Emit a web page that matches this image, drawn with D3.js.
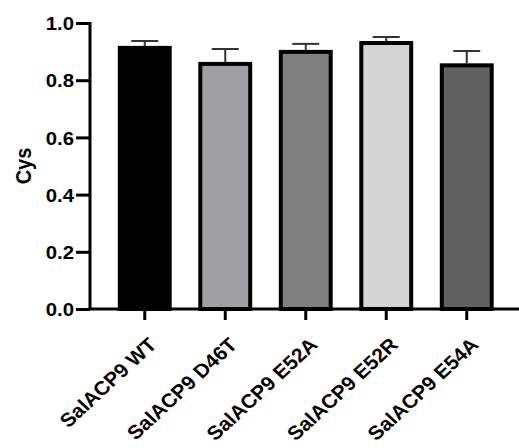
<!DOCTYPE html>
<html>
<head>
<meta charset="utf-8">
<script src="https://cdn.jsdelivr.net/npm/d3@7"></script>
<style>
body{margin:0;background:#fff;}
svg{display:block;}
text{font-family:"Liberation Sans",Arial,sans-serif;font-weight:bold;}
</style>
</head>
<body>
<svg id="chart" width="519" height="448"></svg>
<script>
var categories = ["SalACP9 WT","SalACP9 D46T","SalACP9 E52A","SalACP9 E52R","SalACP9 E54A"];
var means = [0.913, 0.857, 0.899, 0.930, 0.852];
var errors = [0.024, 0.052, 0.028, 0.021, 0.050];
var fills = ["#000000","#a0a0a4","#808080","#d4d4d4","#616161"];
var yTicks = [0.0,0.2,0.4,0.6,0.8,1.0];

var svg = d3.select("#chart");

var y = d3.scaleLinear().domain([0,1]).range([309,23]);
var x = d3.scaleBand().domain(categories).range([104.5,507]).paddingInner(0.38).paddingOuter(0.19);

// bars
svg.selectAll("rect.bar").data(categories).enter().append("rect")
	.attr("class","bar")
	.attr("x", d => x(d))
	.attr("width", x.bandwidth())
	.attr("y", (d,i) => y(means[i]))
	.attr("height", (d,i) => y(0)-y(means[i]))
	.attr("fill", (d,i) => fills[i])
	.attr("stroke","#000")
	.attr("stroke-width",4);

// error bars (upper only)
var eb = svg.selectAll("g.err").data(categories).enter().append("g").attr("class","err");
eb.append("line")
	.attr("x1", d => x(d)+x.bandwidth()/2)
	.attr("x2", d => x(d)+x.bandwidth()/2)
	.attr("y1", (d,i) => y(means[i])-2)
	.attr("y2", (d,i) => y(means[i]+errors[i]))
	.attr("stroke","#333").attr("stroke-width",2);
eb.append("line")
	.attr("x1", d => x(d)+x.bandwidth()/2-13.5)
	.attr("x2", d => x(d)+x.bandwidth()/2+13.5)
	.attr("y1", (d,i) => y(means[i]+errors[i]))
	.attr("y2", (d,i) => y(means[i]+errors[i]))
	.attr("stroke","#333").attr("stroke-width",2);

// y axis
var yAxis = svg.append("g").attr("transform","translate(90,0)")
	.call(d3.axisLeft(y).tickValues(yTicks).tickFormat(d3.format(".1f")).tickSize(14).tickPadding(2));
yAxis.select(".domain").attr("d","M0,"+(y(1)-1)+"V"+(y(0)+1)).attr("stroke-width",3);
yAxis.selectAll(".tick line").attr("stroke-width",3);
yAxis.selectAll(".tick text")
	.attr("font-size",18.5).attr("fill","#000").attr("dy","0.36em")
	.attr("x",null)
	.attr("transform","translate(-16,0) scale(1.1,1)");

// x axis
var xAxis = svg.append("g").attr("transform","translate(0,309)")
	.call(d3.axisBottom(x).tickSize(11).tickFormat(""));
xAxis.select(".domain").attr("d","M88.5,0H519").attr("stroke-width",3);
xAxis.selectAll(".tick line").attr("stroke-width",3);

xAxis.selectAll(".tick").append("text")
	.text(d => d)
	.attr("font-size",19.5)
	.attr("fill","#000")
	.attr("text-anchor","end")
	.attr("transform","translate(13,37) scale(1.08,1) rotate(-45)");

// y label
svg.append("text")
	.attr("transform","translate(31,166) scale(1.08,1) rotate(-90)")
	.attr("text-anchor","middle")
	.attr("font-size",20)
	.text("Cys");
</script>
</body>
</html>
